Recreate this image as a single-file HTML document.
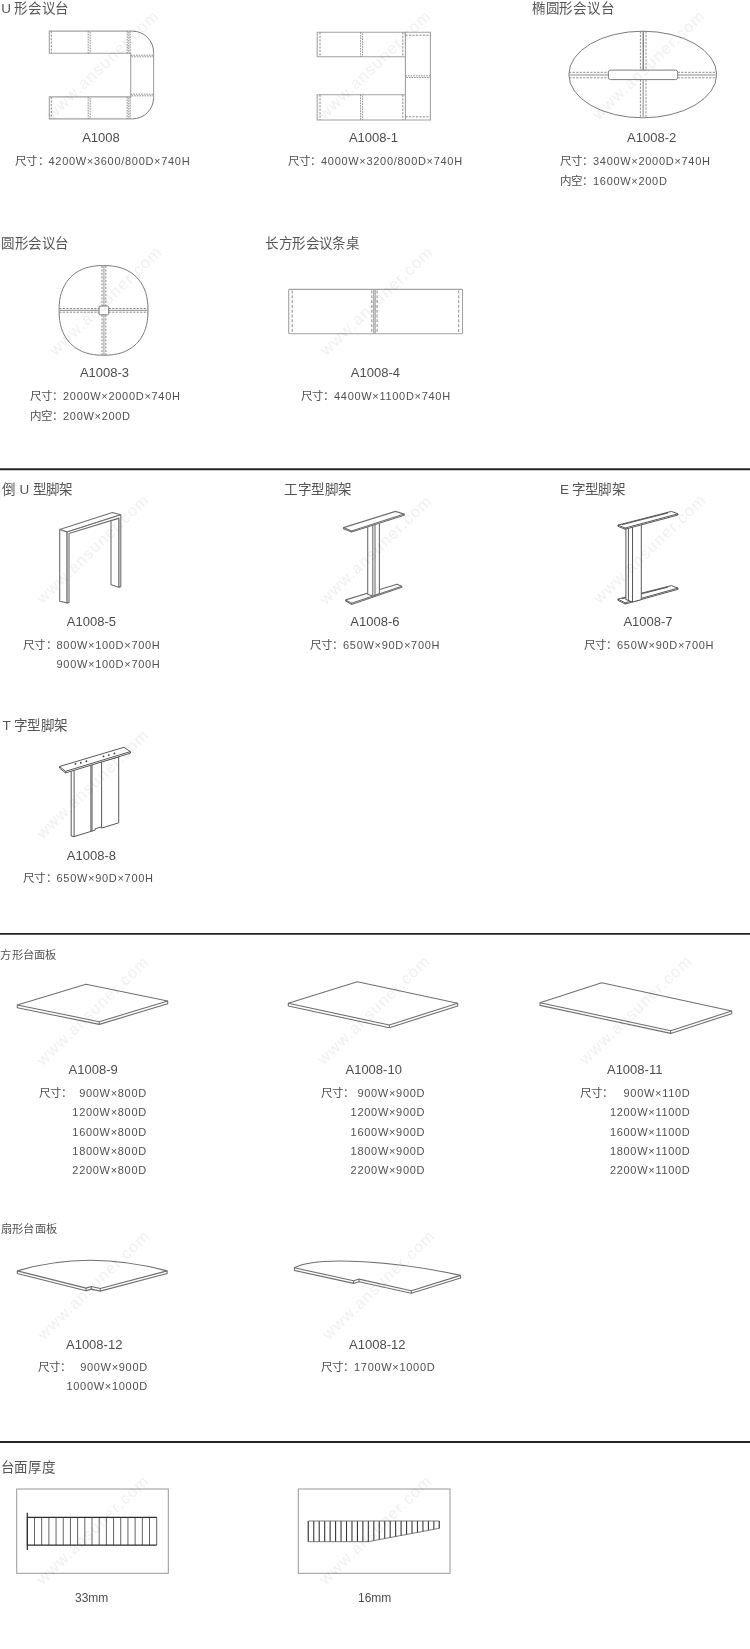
<!DOCTYPE html>
<html lang="zh-CN">
<head>
<meta charset="utf-8">
<title>A1008 会议台 规格参数</title>
<style>
html,body{margin:0;padding:0;background:#fff}
body{width:750px;height:1649px;position:relative;overflow:hidden;
 font-family:"Liberation Sans",sans-serif;color:#555}
main{position:absolute;left:0;top:0;width:750px;height:1649px;overflow:hidden}
section,figure,figcaption{display:block;margin:0;padding:0}
h3,.m,.sp,.sr,.wm,.lb2,figure svg,.rule{position:absolute;white-space:nowrap;margin:0;font-weight:normal}
h3{font-size:13.5px;line-height:16px;color:#555;letter-spacing:-1px;text-align:justify;text-align-last:justify;text-justify:inter-character}
h3.s{font-size:11.3px;line-height:14px;letter-spacing:-.4px}
.m{font-size:13px;line-height:15px;width:120px;text-align:center;color:#4d4d4d}
.m.th{font-size:12px}
.sp,.sr{font-size:11px;line-height:16px;color:#505050;letter-spacing:.7px}
.sr{width:120px;text-align:right}
.sp .lb{display:inline-block;width:33.4px;margin-left:-.4px;font-size:11.5px;letter-spacing:0;overflow:hidden;vertical-align:top;position:relative;top:.4px;text-align:justify;text-align-last:justify;text-justify:inter-character}
.lb2{font-size:11.5px;line-height:16px;margin-left:0;margin-top:.4px;width:33px;overflow:hidden;color:#505050;text-align:justify;text-align-last:justify;text-justify:inter-character}
.rule{left:0;width:750px;height:5px}
.wm{font-size:16px;line-height:18px;letter-spacing:1.3px;color:#f0f0f0;width:176px;text-align:center;
 transform:rotate(-44deg);transform-origin:50% 50%;mix-blend-mode:multiply}
svg{fill:none}
.o{stroke:#a2a2a2;stroke-width:1.1}
.oa{stroke:#7c7c7c;stroke-width:1}
.d{stroke:#868686;stroke-width:.95;stroke-dasharray:2.2 1.3}
.c{stroke:#808080;stroke-width:.9;stroke-dasharray:1.6 1}
.g{stroke:#707070;stroke-width:1.1;stroke-linejoin:round;fill:#fff}
.gl{stroke:#707070;stroke-width:1.1;stroke-linejoin:round}
.k{stroke:#505050;stroke-width:.95;stroke-linejoin:round;fill:#fff}
.kl{stroke:#505050;stroke-width:.95}
.bx{stroke:#989898;stroke-width:1}
.h{stroke:#484848;stroke-width:.85}
.hb{stroke:#2c2c2c;stroke-width:1.25}
.dot{fill:#444;stroke:none}
</style>
</head>
<body>
<main>
<section>
<h3 style="left:1.3px;top:1px;width:66.0px">U 形会议台</h3>
<figure id="a1008">
<svg style="left:44px;top:26px" width="116" height="98" viewBox="44 26 116 98">
<path class="o" d="M132.4,31.1H49.3V53.3H130.7V96.9H49.3V118.9H132.4M153.6,52.3V97.7"/>
<path class="oa" d="M132.4,31.1A21.2,21.2 0 0 1 153.6,52.3M153.6,97.7A21.2,21.2 0 0 1 132.4,118.9"/>
<path class="d" d="M51.3,31.1V53.3M51.3,96.9V118.9"/>
<path class="c" d="M88.2,31.1V53.3M90.2,32V53.3M88.2,96.9V118.9M90.2,97.8V118.9M127.2,31.1V53.3M128.8,32V53.3M130.2,31.1V53.3M127.2,96.9V118.9M128.8,97.8V118.9M130.2,96.9V118.9M130.7,55.2H153.6M131.6,56.8H153.6M130.7,94.2H153.6M131.6,95.8H153.6"/>
</svg>
<span class="wm" style="left:15.3px;top:56.2px">www.ansuner.com</span>
<figcaption>
<div class="m" style="left:41.0px;top:130px">A1008</div>
<div class="sp" style="left:15.5px;top:153px"><span class="lb">尺寸：</span>4200W×3600/800D×740H</div>
</figcaption>
</figure>
<figure id="a1008-1">
<svg style="left:312px;top:27px" width="124" height="98" viewBox="312 27 124 98">
<path class="o" d="M317.2,32.3H430.4V120H317.2V94.7H405.4V56.8H317.2ZM405.4,32.3V120"/>
<path class="d" d="M320,32.3V56.8M320,94.7V120M402.8,32.3V56.8M402.8,94.7V120M405.4,35.2H430.4M405.4,116.8H430.4"/>
<path class="c" d="M360.6,32.3V56.8M362.6,33.2V56.8M360.6,94.7V120M362.6,95.6V120M405.4,75.8H430.4M406.3,77.5H430.4"/>
</svg>
<span class="wm" style="left:286.6px;top:55.7px">www.ansuner.com</span>
<figcaption>
<div class="m" style="left:313.5px;top:130px">A1008-1</div>
<div class="sp" style="left:288px;top:153px"><span class="lb">尺寸：</span>4000W×3200/800D×740H</div>
</figcaption>
</figure>
</section>
<section>
<h3 style="left:532px;top:1px;width:80.6px">椭圆形会议台</h3>
<figure id="a1008-2">
<svg style="left:564px;top:26px" width="158" height="98" viewBox="564 26 158 98">
<ellipse class="oa" cx="642.75" cy="74.5" rx="73.9" ry="43.3"/>
<path class="o" d="M643.2,79.6V117.8M568.9,75H608.4M677.7,75H716.6" stroke="#b4b4b4" stroke-width="1.6" style="stroke:#b4b4b4;stroke-width:1.6"/>
<path class="oa" d="M643.2,31.2V70.1" style="stroke:#6a6a6a;stroke-width:1.2"/>
<path class="d" d="M640.4,31.4V70.1M646,31.4V70.1M640.4,79.6V117.6M646,79.6V117.6M569.2,72.3H608.4M569.2,77.8H608.4M677.7,72.3H716.3M677.7,77.8H716.3"/>
<rect class="oa" x="608.4" y="70.1" width="69.3" height="9.5" rx="2.2" fill="#fff"/>
</svg>
<span class="wm" style="left:560.6px;top:55.7px">www.ansuner.com</span>
<figcaption>
<div class="m" style="left:591.7px;top:130px">A1008-2</div>
<div class="sp" style="left:560px;top:153px"><span class="lb">尺寸：</span>3400W×2000D×740H</div>
<div class="sp" style="left:560px;top:173px"><span class="lb">内空：</span>1600W×200D</div>
</figcaption>
</figure>
</section>
<section>
<h3 style="left:1.2px;top:236px;width:66.2px">圆形会议台</h3>
<figure id="a1008-3">
<svg style="left:54px;top:260px" width="100" height="100" viewBox="54 260 100 100">
<path class="oa" d="M148.0,310.4 L147.9,315.9 L147.4,320.3 L146.7,324.4 L145.7,328.2 L144.4,331.7 L142.8,335.0 L141.0,338.1 L138.9,341.0 L136.5,343.6 L133.9,346.0 L131.1,348.1 L128.0,350.0 L124.7,351.6 L121.2,352.9 L117.4,353.9 L113.4,354.6 L109.0,355.1 L103.6,355.2 L98.1,355.1 L93.7,354.6 L89.7,353.9 L85.9,352.9 L82.4,351.6 L79.1,350.0 L76.0,348.1 L73.2,346.0 L70.6,343.6 L68.2,341.0 L66.1,338.1 L64.3,335.0 L62.7,331.7 L61.4,328.2 L60.4,324.4 L59.7,320.3 L59.2,315.9 L59.1,310.4 L59.2,304.9 L59.7,300.5 L60.4,296.4 L61.4,292.6 L62.7,289.1 L64.3,285.8 L66.1,282.7 L68.2,279.8 L70.6,277.2 L73.2,274.8 L76.0,272.7 L79.1,270.8 L82.4,269.2 L85.9,267.9 L89.7,266.9 L93.7,266.2 L98.1,265.7 L103.5,265.6 L109.0,265.7 L113.4,266.2 L117.4,266.9 L121.2,267.9 L124.7,269.2 L128.0,270.8 L131.1,272.7 L133.9,274.8 L136.5,277.2 L138.9,279.8 L141.0,282.7 L142.8,285.8 L144.4,289.1 L145.7,292.6 L146.7,296.4 L147.4,300.5 L147.9,304.9Z"/>
<path class="o" d="M103.9,265.6V306M103.9,314.8V355.2M59.1,310.4H99.1M108.7,310.4H148" stroke-width="1.3"/>
<path class="d" d="M102,265.8V306M105.8,265.8V306M102,314.8V355M105.8,314.8V355M59.3,308.5H99.1M59.3,312.2H99.1M108.7,308.5H147.8M108.7,312.2H147.8"/>
<rect class="oa" x="99.1" y="306" width="9.6" height="8.8" rx="1.2" fill="#fff"/>
</svg>
<span class="wm" style="left:18.2px;top:292.4px">www.ansuner.com</span>
<figcaption>
<div class="m" style="left:44.5px;top:365px">A1008-3</div>
<div class="sp" style="left:30px;top:388px"><span class="lb">尺寸：</span>2000W×2000D×740H</div>
<div class="sp" style="left:30px;top:408px"><span class="lb">内空：</span>200W×200D</div>
</figcaption>
</figure>
</section>
<section>
<h3 style="left:265.2px;top:236px;width:92.7px">长方形会议条桌</h3>
<figure id="a1008-4">
<svg style="left:283px;top:284px" width="185" height="55" viewBox="283 284 185 55">
<rect class="o" x="288.7" y="289.4" width="173.8" height="44.3" rx="1"/>
<path class="o" d="M373.7,289.4V333.7M375.2,289.4V333.7" stroke-width=".8"/>
<path class="d" style="stroke-dasharray:3 1.8" d="M292.2,290.5V333.7M458.7,290.5V333.7M371.8,290.5V333.7M377.1,290.5V333.7"/>
</svg>
<span class="wm" style="left:288.9px;top:291.5px">www.ansuner.com</span>
<figcaption>
<div class="m" style="left:315.4px;top:365px">A1008-4</div>
<div class="sp" style="left:301px;top:388px"><span class="lb">尺寸：</span>4400W×1100D×740H</div>
</figcaption>
</figure>
</section>
<svg class="rule" style="top:467px" width="750" height="5" viewBox="0 467 750 5"><line x1="0" y1="469.3" x2="750" y2="469.3" stroke="#242424" stroke-width="1.9"/></svg>
<section>
<h3 style="left:2px;top:482px;width:69.4px">倒 U 型脚架</h3>
<figure id="a1008-5">
<svg style="left:54px;top:507px" width="72" height="101" viewBox="54 507 72 101">
<path class="g" d="M59.7,529.5L112.4,512.5L120.8,514.8L67.1,532.1Z"/>
<path class="g" d="M59.7,529.5L67.1,532.1V602.9L59.7,601.3Z"/>
<path class="g" d="M111,520.5L119,518.1V587.3L111,584.7Z"/>
<path class="g" d="M67.1,532.1L120.8,514.8V586.7L119,587.3V518.1L69,533.5V602.4L67.1,602.9Z"/>
</svg>
<span class="wm" style="left:5.0px;top:540.0px">www.ansuner.com</span>
<figcaption>
<div class="m" style="left:31.4px;top:614px">A1008-5</div>
<div class="sp" style="left:23.5px;top:637px"><span class="lb">尺寸：</span>800W×100D×700H</div>
<div class="sp" style="left:56.5px;top:656px">900W×100D×700H</div>
</figcaption>
</figure>
</section>
<section>
<h3 style="left:284.2px;top:482.4px;width:66.2px">工字型脚架</h3>
<figure id="a1008-6">
<svg style="left:338px;top:506px" width="72" height="104" viewBox="338 506 72 104">
<path class="g" d="M345.7,599.9L397,584.2L401.8,586.2V587.3L351.5,604.4L345.7,601Z"/>
<path class="gl" d="M345.7,599.9L351.5,603.2L401.8,586.2M351.5,603.2V604.4"/>
<path class="g" d="M367.7,526V594.2L372.8,596L379.4,593.6V522Z"/>
<path class="gl" d="M372.8,524.5V596M375,524V595.2"/>
<path class="g" d="M343.5,527.6L395.5,511.4L404.3,514.1V515.3L351.5,532.1L343.5,528.8Z"/>
<path class="gl" d="M343.5,527.6L351.5,530.9L404.3,514.1M351.5,530.9V532.1"/>
</svg>
<span class="wm" style="left:287.7px;top:540.5px">www.ansuner.com</span>
<figcaption>
<div class="m" style="left:314.9px;top:614px">A1008-6</div>
<div class="sp" style="left:310px;top:637px"><span class="lb">尺寸：</span>650W×90D×700H</div>
</figcaption>
</figure>
</section>
<section>
<h3 style="left:560px;top:482.4px;width:63.7px">E 字型脚架</h3>
<figure id="a1008-7">
<svg style="left:612px;top:506px" width="72" height="104" viewBox="612 506 72 104">
<path class="k" d="M617.9,599.1L671.4,585.6L678,588.1V589.3L625.2,604L617.9,600.3Z"/>
<path class="kl" d="M617.9,599.1L625.2,602.8L678,588.1M625.2,602.8V604M622,598.7L668,587.2"/>
<path class="k" d="M625.9,527V599.5L632.5,602L641.3,599.6V523Z"/>
<path class="kl" d="M628.4,527V600.5M632.5,526V602"/>
<path class="k" d="M617.9,525.1L671.4,511.4L678,513.8V515L625.2,529.2L617.9,526.3Z"/>
<path class="kl" d="M617.9,525.1L625.2,528L678,513.8M625.2,528V529.2M622,524.7L668,513"/>
</svg>
<span class="wm" style="left:562.1px;top:540.4px">www.ansuner.com</span>
<figcaption>
<div class="m" style="left:588.0px;top:614px">A1008-7</div>
<div class="sp" style="left:584px;top:637px"><span class="lb">尺寸：</span>650W×90D×700H</div>
</figcaption>
</figure>
</section>
<section>
<h3 style="left:2.6px;top:718px;width:63.9px">T 字型脚架</h3>
<figure id="a1008-8">
<svg style="left:54px;top:742px" width="82" height="100" viewBox="54 742 82 100">
<path class="k" d="M71.2,770V836L74.1,836.6L95.2,830.1V828.8L101.6,826.8V828.1L118.7,822.8V757Z"/>
<path class="kl" d="M74.1,770V836.6M90.9,765V831.4M92,765V831.1M101.6,762V826.8"/>
<path class="k" d="M59.5,766.5L124,747.3L130.4,751.6V753.2L65.6,772.9L59.5,768.1Z"/>
<path class="kl" d="M59.5,766.5L65.6,771.3L130.4,751.6M65.6,771.3V772.9"/>
<circle class="dot" cx="75.5" cy="763.9" r=".95"/><circle class="dot" cx="80.8" cy="762.8" r=".95"/><circle class="dot" cx="86.4" cy="761.2" r=".95"/><circle class="dot" cx="103.5" cy="756.4" r=".95"/><circle class="dot" cx="108.8" cy="755.1" r=".95"/><circle class="dot" cx="114.4" cy="753.5" r=".95"/>
</svg>
<span class="wm" style="left:5.0px;top:774.7px">www.ansuner.com</span>
<figcaption>
<div class="m" style="left:31.4px;top:848px">A1008-8</div>
<div class="sp" style="left:23.5px;top:870px"><span class="lb">尺寸：</span>650W×90D×700H</div>
</figcaption>
</figure>
</section>
<svg class="rule" style="top:931px" width="750" height="5" viewBox="0 931 750 5"><line x1="0" y1="933.9" x2="750" y2="933.9" stroke="#242424" stroke-width="1.9"/></svg>
<section>
<h3 class="s" style="left:0.4px;top:948px;width:55.2px">方形台面板</h3>
<figure id="a1008-9">
<svg style="left:12px;top:979px" width="161" height="52" viewBox="12 979 161 52">
<path class="g" d="M17.3,1005L86,984.3L167.7,1001V1003.7L99.3,1024.4L17.3,1007.7Z"/>
<path class="gl" d="M17.3,1005L99.3,1021.7L167.7,1001M99.3,1021.7V1024.4"/>
</svg>
<span class="wm" style="left:5.3px;top:1001.7px">www.ansuner.com</span>
<figcaption>
<div class="m" style="left:33.2px;top:1062px">A1008-9</div>
<div class="lb2" style="left:39px;top:1085px">尺寸：</div>
<div class="sr" style="left:26.9px;top:1085.0px">900W×800D</div>
<div class="sr" style="left:26.9px;top:1104.3px">1200W×800D</div>
<div class="sr" style="left:26.9px;top:1123.6px">1600W×800D</div>
<div class="sr" style="left:26.9px;top:1142.9px">1800W×800D</div>
<div class="sr" style="left:26.9px;top:1162.2px">2200W×800D</div>
</figcaption>
</figure>
<figure id="a1008-10">
<svg style="left:283px;top:976px" width="180" height="58" viewBox="283 976 180 58">
<path class="g" d="M288.3,1003.3L357.3,981.7L457.7,1003.3V1006.0L389.3,1027.7L288.3,1006.0Z"/>
<path class="gl" d="M288.3,1003.3L389.3,1025L457.7,1003.3M389.3,1025V1027.7"/>
</svg>
<span class="wm" style="left:285.8px;top:1001.4px">www.ansuner.com</span>
<figcaption>
<div class="m" style="left:313.7px;top:1062px">A1008-10</div>
<div class="lb2" style="left:321px;top:1085px">尺寸：</div>
<div class="sr" style="left:305.2px;top:1085.0px">900W×900D</div>
<div class="sr" style="left:305.2px;top:1104.3px">1200W×900D</div>
<div class="sr" style="left:305.2px;top:1123.6px">1600W×900D</div>
<div class="sr" style="left:305.2px;top:1142.9px">1800W×900D</div>
<div class="sr" style="left:305.2px;top:1162.2px">2200W×900D</div>
</figcaption>
</figure>
<figure id="a1008-11">
<svg style="left:535px;top:977px" width="202" height="62" viewBox="535 977 202 62">
<path class="g" d="M540,1002.7L601.7,982.7L731.7,1011V1013.7L670.7,1033.4L540,1005.4000000000001Z"/>
<path class="gl" d="M540,1002.7L670.7,1030.7L731.7,1011M670.7,1030.7V1033.4"/>
</svg>
<span class="wm" style="left:547.5px;top:1001.4px">www.ansuner.com</span>
<figcaption>
<div class="m" style="left:574.7px;top:1062px">A1008-11</div>
<div class="lb2" style="left:580px;top:1085px">尺寸：</div>
<div class="sr" style="left:570.5px;top:1085.0px">900W×110D</div>
<div class="sr" style="left:570.5px;top:1104.3px">1200W×1100D</div>
<div class="sr" style="left:570.5px;top:1123.6px">1600W×1100D</div>
<div class="sr" style="left:570.5px;top:1142.9px">1800W×1100D</div>
<div class="sr" style="left:570.5px;top:1162.2px">2200W×1100D</div>
</figcaption>
</figure>
</section>
<section>
<h3 class="s" style="left:1px;top:1222px;width:55.4px">扇形台面板</h3>
<figure id="a1008-12a">
<svg style="left:12px;top:1255px" width="161" height="44" viewBox="12 1255 161 44">
<path class="g" d="M17.3,1270.9Q88,1249.6 167.1,1270.9V1273.5L100.2,1291.1L91.2,1289.1L86,1290.7L17.3,1273.5Z"/>
<path class="gl" d="M167.1,1270.9L100.2,1288.5L91.2,1286.5L86,1288.1L17.3,1270.9M100.2,1288.5V1291.1M91.2,1286.5V1289.1M86,1288.1V1290.7"/>
</svg>
<span class="wm" style="left:5.8px;top:1276.4px">www.ansuner.com</span>
<figcaption>
<div class="m" style="left:34.2px;top:1337px">A1008-12</div>
<div class="lb2" style="left:38px;top:1359px">尺寸：</div>
<div class="sr" style="left:27.9px;top:1359.0px">900W×900D</div>
<div class="sr" style="left:27.9px;top:1378.3px">1000W×1000D</div>
</figcaption>
</figure>
<figure id="a1008-12b">
<svg style="left:288px;top:1254px" width="180" height="46" viewBox="288 1254 180 46">
<path class="g" d="M294.4,1267.8C318,1255 400,1262 460.6,1275.4V1278.0L411.3,1293.3L359,1281.7L353.6,1283.4L294.4,1270.4Z"/>
<path class="gl" d="M460.6,1275.4L411.3,1290.7L359,1279.1L353.6,1280.8L294.4,1267.8M411.3,1290.7V1293.3M359,1279.1V1281.7M353.6,1280.8V1283.4"/>
</svg>
<span class="wm" style="left:290.8px;top:1276.4px">www.ansuner.com</span>
<figcaption>
<div class="m" style="left:317.3px;top:1337px">A1008-12</div>
<div class="sp" style="left:321px;top:1359px"><span class="lb">尺寸：</span>1700W×1000D</div>
</figcaption>
</figure>
</section>
<svg class="rule" style="top:1440px" width="750" height="5" viewBox="0 1440 750 5"><line x1="0" y1="1442.0" x2="750" y2="1442.0" stroke="#242424" stroke-width="1.9"/></svg>
<section>
<h3 style="left:0.5px;top:1460.3px;width:53.3px">台面厚度</h3>
<figure id="t33">
<svg style="left:14px;top:1486px" width="158" height="91" viewBox="14 1486 158 91">
<rect class="bx" x="16.7" y="1489" width="151.6" height="84.3"/>
<path class="h" d="M27.30,1517.3V1545.00M34.49,1517.3V1545.00M41.68,1517.3V1545.00M48.87,1517.3V1545.00M56.06,1517.3V1545.00M63.24,1517.3V1545.00M70.43,1517.3V1545.00M77.62,1517.3V1545.00M84.81,1517.3V1545.00M92.00,1517.3V1545.00M99.19,1517.3V1545.00M106.38,1517.3V1545.00M113.57,1517.3V1545.00M120.76,1517.3V1545.00M127.94,1517.3V1545.00M135.13,1517.3V1545.00M142.32,1517.3V1545.00M149.51,1517.3V1545.00M156.70,1517.3V1545.00"/>
<path class="hb" d="M27.3,1512.7V1550M27.3,1517.3H156.7M27.3,1545H156.7"/>
</svg>
<span class="wm" style="left:5.3px;top:1521.4px">www.ansuner.com</span>
<figcaption>
<div class="m th" style="left:31.7px;top:1591px">33mm</div>
</figcaption>
</figure>
<figure id="t16">
<svg style="left:295px;top:1486px" width="158" height="91" viewBox="295 1486 158 91">
<rect class="bx" x="298.3" y="1489" width="151.7" height="84.3"/>
<path class="hb" style="stroke-width:1.1;stroke:#383838" d="M308.30,1521V1541.70M313.76,1521V1541.70M319.22,1521V1541.70M324.68,1521V1541.70M330.13,1521V1541.70M335.59,1521V1541.70M341.05,1521V1541.70M346.51,1521V1541.70M351.97,1521V1541.70M357.43,1521V1541.70M362.88,1521V1541.70M368.34,1521V1541.64M373.80,1521V1540.61M379.26,1521V1539.58M384.72,1521V1538.56M390.18,1521V1537.53M395.63,1521V1536.51M401.09,1521V1535.48M406.55,1521V1534.45M412.01,1521V1533.43M417.47,1521V1532.40M422.93,1521V1531.38M428.38,1521V1530.35M433.84,1521V1529.33M439.30,1521V1528.30"/>
<path class="h" style="stroke-width:.8;stroke:#5a5a5a" d="M308.3,1521H439.3V1528.3L368,1541.7H308.3Z"/>
</svg>
<span class="wm" style="left:287.5px;top:1521.4px">www.ansuner.com</span>
<figcaption>
<div class="m th" style="left:314.7px;top:1591px">16mm</div>
</figcaption>
</figure>
</section>
</main>
</body>
</html>
